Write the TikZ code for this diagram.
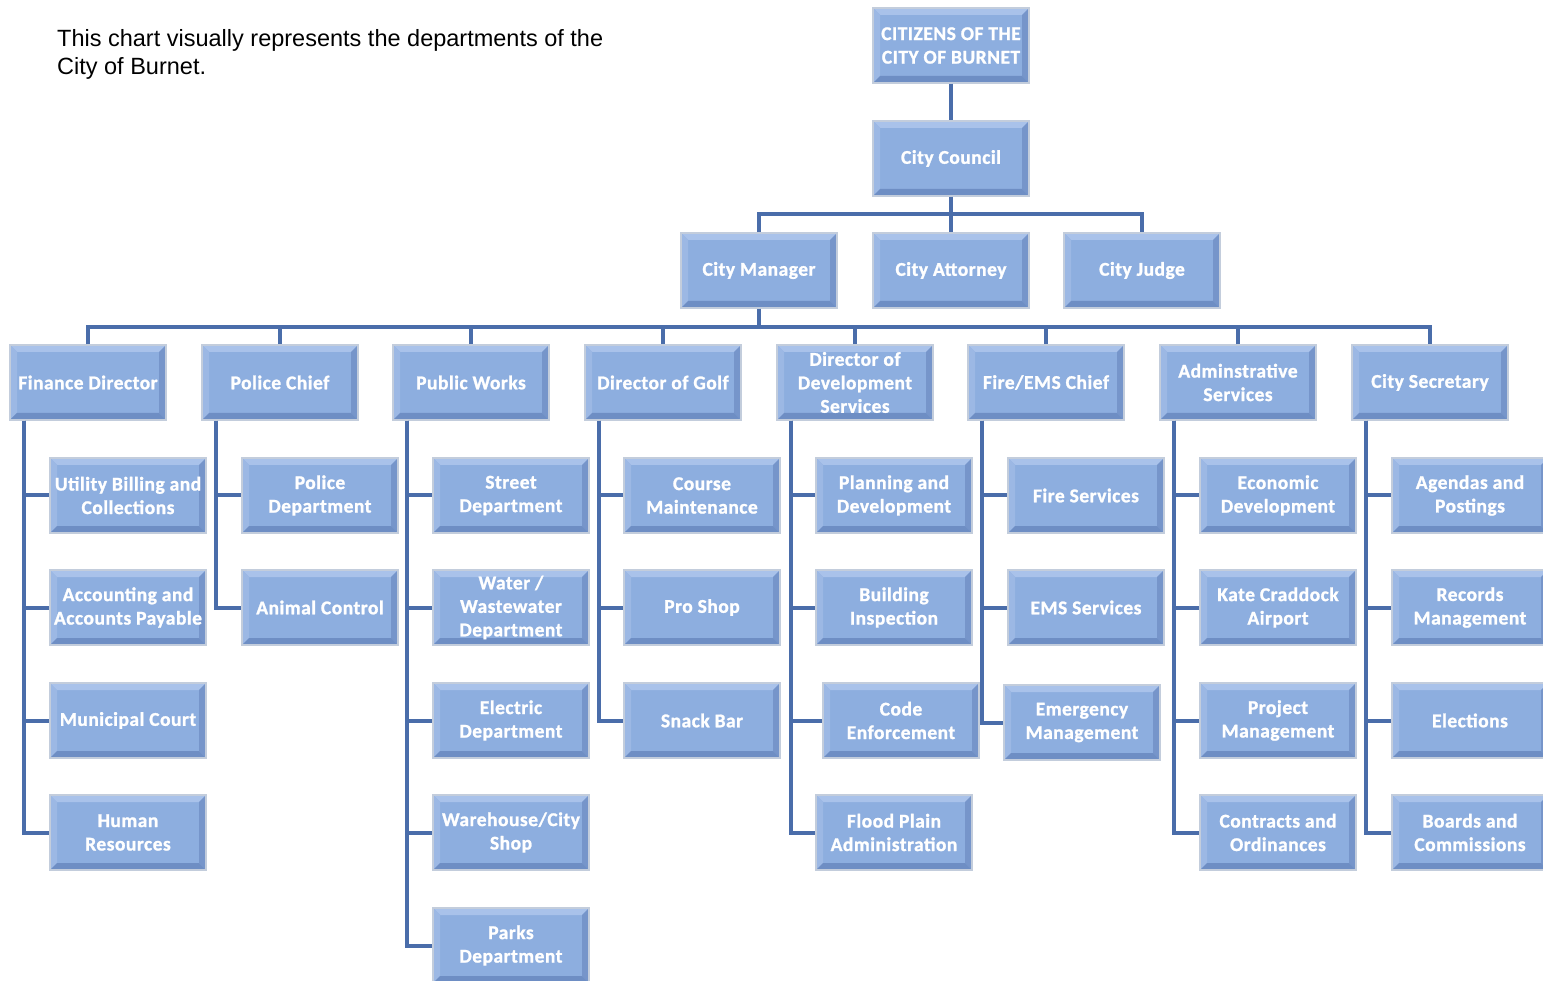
\documentclass[tikz,border=0pt]{standalone}
\usepackage{fontspec}
\usetikzlibrary{calc}
\newfontfamily\calfont{Carlito Bold}[LetterSpace=2.5,FakeBold=1.2]
\newfontfamily\arialfont{Liberation Sans}
\definecolor{boxmain}{HTML}{8DAEDF}
\definecolor{bevtop}{HTML}{A9C2EA}
\definecolor{bevleft}{HTML}{9CB8E4}
\definecolor{bevright}{HTML}{7695CA}
\definecolor{bevbot}{HTML}{6E8EC4}
\definecolor{boxedge}{HTML}{C3CDDC}
\definecolor{linkblue}{HTML}{4A6DAA}
\tikzset{
 orgbox/.style={minimum width=156pt, minimum height=75pt, inner sep=0pt, align=center,
  font={\calfont\fontsize{19.5}{23.5}\selectfont}, text=white,
  fill=boxmain, draw=boxedge, line width=1.5pt,
  path picture={
   \path (path picture bounding box.north west) coordinate (pNW)
         (path picture bounding box.north east) coordinate (pNE)
         (path picture bounding box.south east) coordinate (pSE)
         (path picture bounding box.south west) coordinate (pSW);
   \coordinate (qNW) at ($(pNW)+(7pt,-7pt)$);
   \coordinate (qNE) at ($(pNE)+(-7pt,-7pt)$);
   \coordinate (qSE) at ($(pSE)+(-7pt,7pt)$);
   \coordinate (qSW) at ($(pSW)+(7pt,7pt)$);
   \fill[bevtop] (pNW) -- (pNE) -- (qNE) -- (qNW) -- cycle;
   \fill[bevleft] (pNW) -- (qNW) -- (qSW) -- (pSW) -- cycle;
   \fill[bevright] (pNE) -- (pSE) -- (qSE) -- (qNE) -- cycle;
   \fill[bevbot] (pSW) -- (qSW) -- (qSE) -- (pSE) -- cycle;
  }},
 link/.style={draw=linkblue, line width=4pt},
 titletext/.style={anchor=base west, inner sep=0pt, font={\arialfont\fontsize{23.5}{28}\selectfont}}
}
\begin{document}
\begin{tikzpicture}[x=1pt,y=-1pt]
\useasboundingbox[fill=white] (0,0) rectangle (1543,981);
\node[titletext] (t1) at (57,47) {This chart visually represents the departments of the};
\node[titletext] (t2) at (57,75) {City of Burnet.};

\node[orgbox] (cit) at (951,45.5) {CITIZENS OF THE\\CITY OF BURNET};
\node[orgbox] (council) at (951,158.5) {City Council};
\node[orgbox] (mgr) at (759,270.5) {City Manager};
\node[orgbox] (atty) at (951,270.5) {City Attorney};
\node[orgbox] (judge) at (1142,270.5) {City Judge};

\node[orgbox] (fin) at (88,382.5) {Finance Director};
\node[orgbox] (pol) at (280,382.5) {Police Chief};
\node[orgbox] (pw) at (471,382.5) {Public Works};
\node[orgbox] (golf) at (663,382.5) {Director of Golf};
\node[orgbox] (dev) at (855,382.5) {Director of\\Development\\Services};
\node[orgbox] (fire) at (1046,382.5) {Fire/EMS Chief};
\node[orgbox] (adm) at (1238,382.5) {Adminstrative\\Services};
\node[orgbox] (sec) at (1430,382.5) {City Secretary};

\node[orgbox] (fin1) at (128,495.5) {Utility Billing and\\Collections};
\node[orgbox] (fin2) at (128,607.5) {Accounting and\\Accounts Payable};
\node[orgbox] (fin3) at (128,720.5) {Municipal Court};
\node[orgbox] (fin4) at (128,832.5) {Human\\Resources};

\node[orgbox] (pol1) at (320,495.5) {Police\\Department};
\node[orgbox] (pol2) at (320,607.5) {Animal Control};

\node[orgbox] (pw1) at (511,495.5) {Street\\Department};
\node[orgbox] (pw2) at (511,607.5) {Water /\\Wastewater\\Department};
\node[orgbox] (pw3) at (511,720.5) {Electric\\Department};
\node[orgbox] (pw4) at (511,832.5) {Warehouse/City\\Shop};
\node[orgbox] (pw5) at (511,945.5) {Parks\\Department};

\node[orgbox] (g1) at (702,495.5) {Course\\Maintenance};
\node[orgbox] (g2) at (702,607.5) {Pro Shop};
\node[orgbox] (g3) at (702,720.5) {Snack Bar};

\node[orgbox] (d1) at (894,495.5) {Planning and\\Development};
\node[orgbox] (d2) at (894,607.5) {Building\\Inspection};
\node[orgbox] (d3) at (901,720.5) {Code\\Enforcement};
\node[orgbox] (d4) at (894,832.5) {Flood Plain\\Administration};

\node[orgbox] (f1) at (1086,495.5) {Fire Services};
\node[orgbox] (f2) at (1086,607.5) {EMS Services};
\node[orgbox] (f3) at (1082,722.5) {Emergency\\Management};

\node[orgbox] (a1) at (1278,495.5) {Economic\\Development};
\node[orgbox] (a2) at (1278,607.5) {Kate Craddock\\Airport};
\node[orgbox] (a3) at (1278,720.5) {Project\\Management};
\node[orgbox] (a4) at (1278,832.5) {Contracts and\\Ordinances};

\node[orgbox] (s1) at (1470,495.5) {Agendas and\\Postings};
\node[orgbox] (s2) at (1470,607.5) {Records\\Management};
\node[orgbox] (s3) at (1470,720.5) {Elections};
\node[orgbox] (s4) at (1470,832.5) {Boards and\\Commissions};

% top connectors
\coordinate (j1) at (951,214);
\coordinate (j2) at (759,327);
\draw[link] (cit.south) -- (council.north);
\draw[link] (council.south) -- (j1);
\draw[link] (mgr.north) |- (j1) -| (judge.north);
\draw[link] (j1) -- (atty.north);
\draw[link] (mgr.south) -- (j2);
\draw[link] (fin.north) |- (j2) -| (sec.north);
\foreach \d in {pol,pw,golf,dev,fire,adm}
  \draw[link] (\d.north) -- (\d.north |- j2);

% child connectors
\foreach \p/\kids in {fin/{fin1,fin2,fin3,fin4}, pol/{pol1,pol2}, pw/{pw1,pw2,pw3,pw4,pw5}, golf/{g1,g2,g3}, dev/{d1,d2,d3,d4}, fire/{f1,f2,f3}, adm/{a1,a2,a3,a4}, sec/{s1,s2,s3,s4}}
  \foreach \k in \kids
    \draw[link] ([xshift=15pt]\p.south west) |- (\k.west);
\end{tikzpicture}
\end{document}
